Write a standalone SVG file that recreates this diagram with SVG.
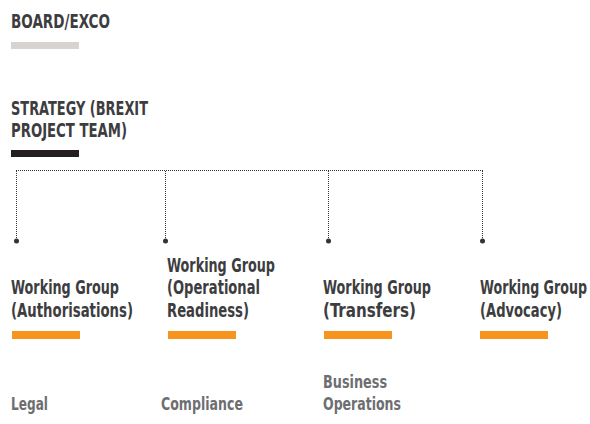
<svg xmlns="http://www.w3.org/2000/svg" width="590" height="424" viewBox="0 0 590 424">
<style>
.t{font-family:"DejaVu Sans Condensed","Liberation Sans Narrow","Liberation Sans",sans-serif;font-weight:bold;font-size:20px;fill:#3d3d3f}
.s{font-family:"DejaVu Sans Condensed","Liberation Sans Narrow","Liberation Sans",sans-serif;font-weight:bold;font-size:18px;fill:#6d6e71}
.bar{fill:#f7941d}
.ln{stroke:#333;stroke-width:1;stroke-dasharray:1 1;fill:none}
.dot{fill:#333}
</style>
<rect width="590" height="424" fill="#fff"/>
<g id="board">
<g transform="translate(11 0) scale(0.66 1)">
<text class="t" x="0" y="28" textLength="150" lengthAdjust="spacingAndGlyphs">BOARD/EXCO</text>
</g>
<rect x="11" y="42" width="68" height="7" fill="#d6d3d1"/>
</g>
<g id="strategy">
<g transform="translate(11 0) scale(0.66 1)">
<text class="t" x="0" y="115.5" textLength="207.6" lengthAdjust="spacingAndGlyphs">STRATEGY (BREXIT</text>
<text class="t" x="0" y="137.5" textLength="175.8" lengthAdjust="spacingAndGlyphs">PROJECT TEAM)</text>
</g>
<rect x="11" y="150" width="68" height="7" fill="#231f20"/>
</g>
<g id="connectors">
<path class="ln" d="M16 170.5H483M16.5 171V241M165.5 171V241M328.5 171V241M482.5 171V241"/>
<circle class="dot" cx="16.5" cy="241" r="2.5"/>
<circle class="dot" cx="165.5" cy="241" r="2.5"/>
<circle class="dot" cx="328.5" cy="241" r="2.5"/>
<circle class="dot" cx="482.5" cy="241" r="2.5"/>
</g>
<g id="wg-authorisations">
<g transform="translate(11 0) scale(0.66 1)">
<text class="t" x="0" y="294.5" textLength="163.6" lengthAdjust="spacingAndGlyphs">Working Group</text>
<text class="t" x="0" y="317" textLength="184.8" lengthAdjust="spacingAndGlyphs">(Authorisations)</text>
</g>
<rect class="bar" x="12" y="331" width="68" height="8"/>
</g>
<g id="wg-operational">
<g transform="translate(167 0) scale(0.66 1)">
<text class="t" x="0" y="272" textLength="163.6" lengthAdjust="spacingAndGlyphs">Working Group</text>
<text class="t" x="0" y="294.5" textLength="140.9" lengthAdjust="spacingAndGlyphs">(Operational</text>
<text class="t" x="0" y="317" textLength="124.2" lengthAdjust="spacingAndGlyphs">Readiness)</text>
</g>
<rect class="bar" x="168" y="331" width="68" height="8"/>
</g>
<g id="wg-transfers">
<g transform="translate(323 0) scale(0.66 1)">
<text class="t" x="0" y="294.5" textLength="163.6" lengthAdjust="spacingAndGlyphs">Working Group</text>
<text class="t" x="0" y="317" textLength="140.9" lengthAdjust="spacingAndGlyphs">(Transfers)</text>
</g>
<rect class="bar" x="324" y="331" width="68" height="8"/>
</g>
<g id="wg-advocacy">
<g transform="translate(480 0) scale(0.66 1)">
<text class="t" x="0" y="294.5" textLength="162.1" lengthAdjust="spacingAndGlyphs">Working Group</text>
<text class="t" x="0" y="317" textLength="124.2" lengthAdjust="spacingAndGlyphs">(Advocacy)</text>
</g>
<rect class="bar" x="480" y="331" width="68" height="8"/>
</g>
<g id="legal">
<g transform="translate(11 0) scale(0.66 1)">
<text class="s" x="0" y="410" textLength="56.1" lengthAdjust="spacingAndGlyphs">Legal</text>
</g>
</g>
<g id="compliance">
<g transform="translate(161 0) scale(0.66 1)">
<text class="s" x="0" y="410" textLength="124.2" lengthAdjust="spacingAndGlyphs">Compliance</text>
</g>
</g>
<g id="business-operations">
<g transform="translate(323 0) scale(0.66 1)">
<text class="s" x="0" y="388" textLength="97" lengthAdjust="spacingAndGlyphs">Business</text>
<text class="s" x="0" y="410" textLength="118.2" lengthAdjust="spacingAndGlyphs">Operations</text>
</g>
</g>
</svg>
